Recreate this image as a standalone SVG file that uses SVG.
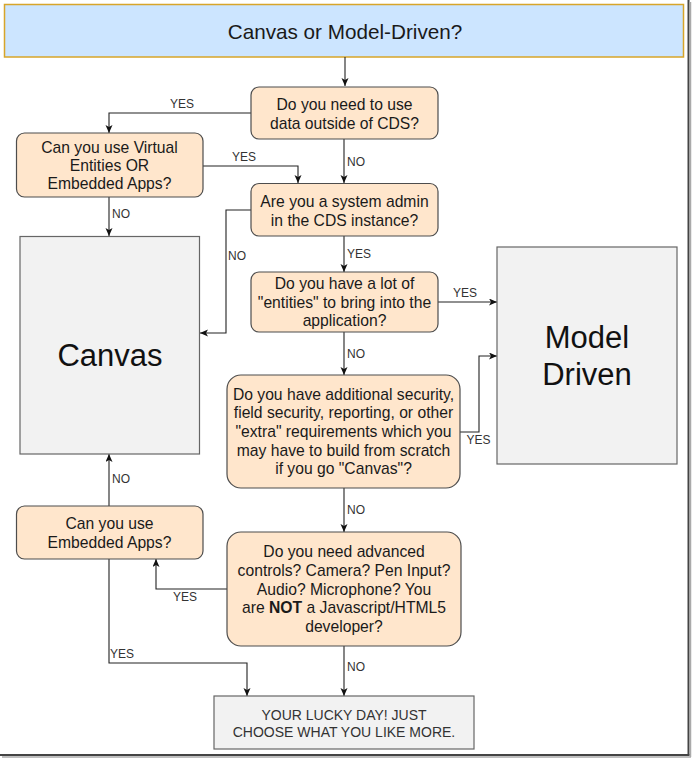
<svg xmlns="http://www.w3.org/2000/svg" width="692" height="759" viewBox="0 0 692 759">
<defs>
<style>
.q{fill:#ffe6cc;stroke:#4d4d4d;stroke-width:1.2}
.g{fill:#f2f2f2;stroke:#666;stroke-width:1.2}
.t{font-family:"Liberation Sans",Arial,sans-serif;font-size:15.7px;fill:#1a1a1a;text-anchor:middle}
.big{font-family:"Liberation Sans",Arial,sans-serif;font-size:31px;fill:#111;text-anchor:middle}
.lbl{font-family:"Liberation Sans",Arial,sans-serif;font-size:12px;fill:#333}
.c{fill:none;stroke:#222;stroke-width:1.1}
</style>
<marker id="ah" markerWidth="9" markerHeight="8" refX="8" refY="3.5" orient="auto" markerUnits="userSpaceOnUse">
<path d="M0,0 L8,3.5 L0,7 L2,3.5 z" fill="#111"/>
</marker>
</defs>
<rect x="0" y="0" width="692" height="759" fill="#fff"/>
<g id="frame">
<line x1="688.5" y1="0" x2="688.5" y2="755.5" stroke="#444" stroke-width="2"/>
<line x1="0" y1="755" x2="689.5" y2="755" stroke="#444" stroke-width="2"/>
<line x1="690.5" y1="2" x2="690.5" y2="757" stroke="#aaa" stroke-width="1.5"/>
<line x1="2" y1="757" x2="691" y2="757" stroke="#aaa" stroke-width="1.5"/>
</g>
<g id="title">
<rect x="4.5" y="4.5" width="679" height="52.5" fill="#cce5ff" stroke="#d7a52a" stroke-width="1.5"/>
<text x="345" y="39" font-family="'Liberation Sans',Arial,sans-serif" font-size="20.7" fill="#1a1a1a" text-anchor="middle">Canvas or Model-Driven?</text>
</g>
<g id="connectors">
<path class="c" d="M345 57 V86" marker-end="url(#ah)"/>
<path class="c" d="M251 113 H109 V133" marker-end="url(#ah)"/>
<path class="c" d="M203 166 H298 V183" marker-end="url(#ah)"/>
<path class="c" d="M344 139 V183" marker-end="url(#ah)"/>
<path class="c" d="M109 197 V236" marker-end="url(#ah)"/>
<path class="c" d="M251 210 H226 V333 H200" marker-end="url(#ah)"/>
<path class="c" d="M344 236 V272" marker-end="url(#ah)"/>
<path class="c" d="M438 302 H497" marker-end="url(#ah)"/>
<path class="c" d="M344 332 V375" marker-end="url(#ah)"/>
<path class="c" d="M460 432 H479 V356 H497" marker-end="url(#ah)"/>
<path class="c" d="M344 488 V532" marker-end="url(#ah)"/>
<path class="c" d="M109 506 V454" marker-end="url(#ah)"/>
<path class="c" d="M227 589 H156 V559" marker-end="url(#ah)"/>
<path class="c" d="M109 559 V663 H247 V696" marker-end="url(#ah)"/>
<path class="c" d="M344 646 V696" marker-end="url(#ah)"/>
<text class="lbl" x="182" y="108" text-anchor="middle">YES</text>
<text class="lbl" x="244" y="161" text-anchor="middle">YES</text>
<text class="lbl" x="347" y="166">NO</text>
<text class="lbl" x="112" y="218">NO</text>
<text class="lbl" x="228" y="260">NO</text>
<text class="lbl" x="347" y="258">YES</text>
<text class="lbl" x="465" y="297" text-anchor="middle">YES</text>
<text class="lbl" x="347" y="358">NO</text>
<text class="lbl" x="478.5" y="444" text-anchor="middle">YES</text>
<text class="lbl" x="112" y="483">NO</text>
<text class="lbl" x="347" y="514">NO</text>
<text class="lbl" x="185" y="601" text-anchor="middle">YES</text>
<text class="lbl" x="110" y="658">YES</text>
<text class="lbl" x="347" y="671">NO</text>
</g>
<g id="q1">
<rect class="q" x="251" y="87" width="187" height="52" rx="8"/>
<text class="t" x="344.5" y="109.5">Do you need to use</text>
<text class="t" x="344.5" y="128.5">data outside of CDS?</text>
</g>
<g id="virtual">
<rect class="q" x="16.5" y="133" width="186.5" height="64" rx="8"/>
<text class="t" x="109.5" y="152.5">Can you use Virtual</text>
<text class="t" x="109.5" y="170.5">Entities OR</text>
<text class="t" x="109.5" y="188.5">Embedded Apps?</text>
</g>
<g id="q2">
<rect class="q" x="251" y="183.5" width="187" height="52.5" rx="8"/>
<text class="t" x="344.5" y="206.5">Are you a system admin</text>
<text class="t" x="344.5" y="225.5">in the CDS instance?</text>
</g>
<g id="canvas">
<rect class="g" x="20" y="236.5" width="179.5" height="217.5"/>
<text class="big" x="110" y="366">Canvas</text>
</g>
<g id="q3">
<rect class="q" x="251" y="272" width="187" height="60" rx="8"/>
<text class="t" x="344.5" y="289">Do you have a lot of</text>
<text class="t" x="344.5" y="307.5">"entities" to bring into the</text>
<text class="t" x="344.5" y="326">application?</text>
</g>
<g id="model">
<rect class="g" x="497" y="247" width="180" height="217"/>
<text class="big" x="587" y="348">Model</text>
<text class="big" x="587" y="385">Driven</text>
</g>
<g id="q4">
<rect class="q" x="227" y="375" width="233" height="113" rx="14"/>
<text class="t" x="343.5" y="399.5">Do you have additional security,</text>
<text class="t" x="343.5" y="418.2">field security, reporting, or other</text>
<text class="t" x="343.5" y="436.9">"extra" requirements which you</text>
<text class="t" x="343.5" y="455.6">may have to build from scratch</text>
<text class="t" x="343.5" y="474.3">if you go "Canvas"?</text>
</g>
<g id="embedded">
<rect class="q" x="16.5" y="506" width="186.5" height="53" rx="8"/>
<text class="t" x="109.5" y="528.5">Can you use</text>
<text class="t" x="109.5" y="547.5">Embedded Apps?</text>
</g>
<g id="q5">
<rect class="q" x="227" y="532" width="234" height="114" rx="14"/>
<text class="t" x="344" y="557.1">Do you need advanced</text>
<text class="t" x="344" y="575.8">controls? Camera? Pen Input?</text>
<text class="t" x="344" y="594.5">Audio? Microphone? You</text>
<text class="t" x="344" y="613.2">are <tspan font-weight="bold">NOT</tspan> a Javascript/HTML5</text>
<text class="t" x="344" y="631.9">developer?</text>
</g>
<g id="lucky">
<rect class="g" x="214" y="696" width="260" height="53"/>
<text x="344" y="720" font-family="'Liberation Sans',Arial,sans-serif" font-size="14" fill="#333" text-anchor="middle">YOUR LUCKY DAY! JUST</text>
<text x="344" y="736.5" font-family="'Liberation Sans',Arial,sans-serif" font-size="14" fill="#333" text-anchor="middle">CHOOSE WHAT YOU LIKE MORE.</text>
</g>
</svg>
